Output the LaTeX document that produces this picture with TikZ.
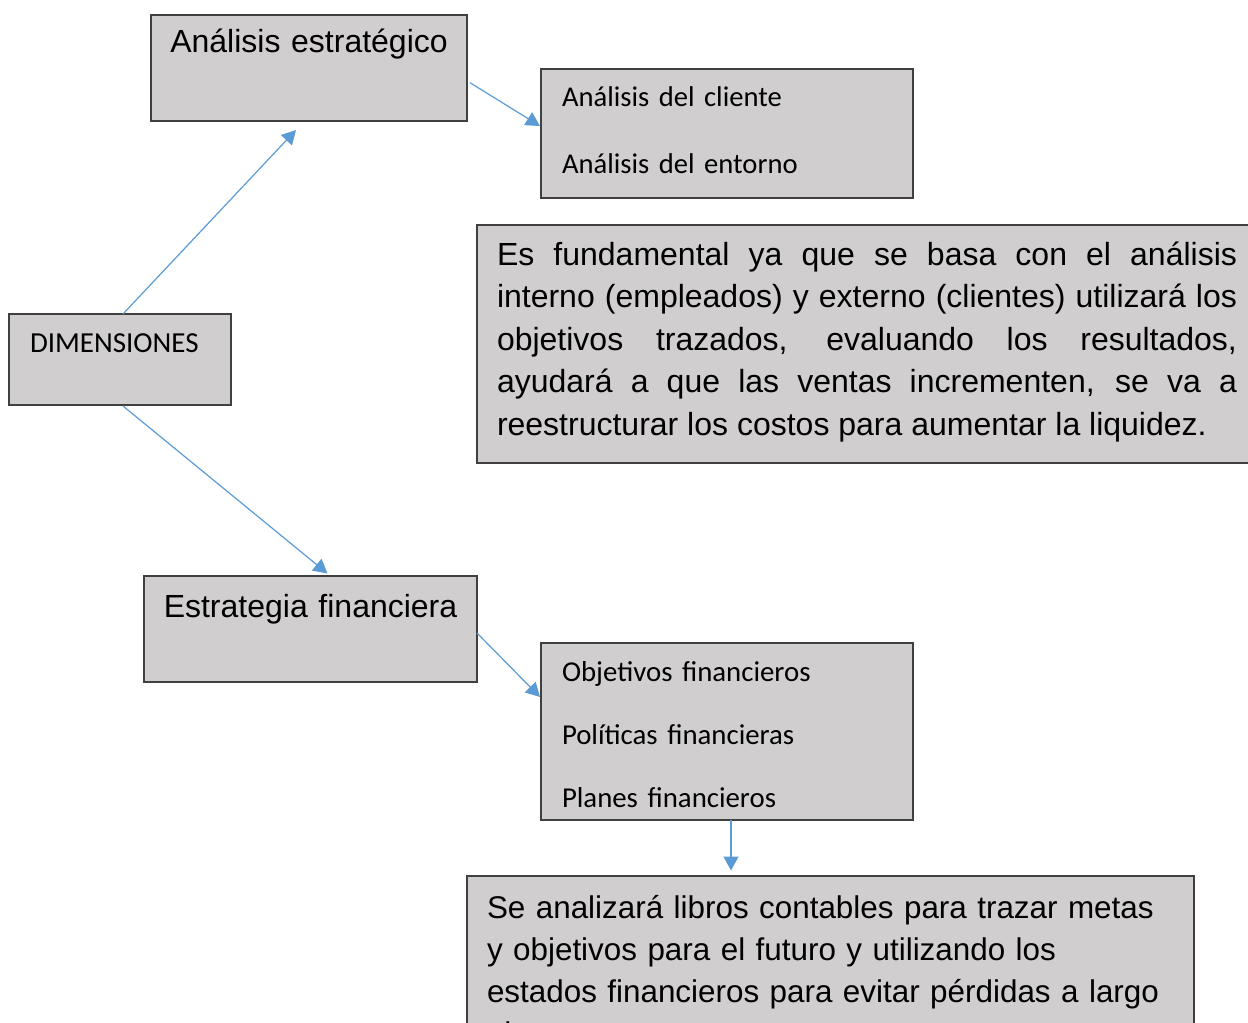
\documentclass[tikz,border=0pt]{standalone}
\usepackage{fontspec}
\setmainfont{Liberation Sans}
\newfontfamily\calibri{Carlito}
\usetikzlibrary{arrows.meta}
\definecolor{gris}{HTML}{D0CECE}
\definecolor{borde}{HTML}{404040}
\definecolor{azul}{HTML}{5B9BD5}
\hbadness=10000
\tikzset{
	caja/.style={draw=borde, fill=gris, line width=0.8pt, anchor=north west, outer sep=0pt, inner ysep=0pt},
	flecha/.style={draw=azul, line width=0.6pt, -{Triangle[length=7pt,width=7.5pt]}}
}
\begin{document}
\begin{tikzpicture}[x=0.5pt,y=-0.5pt]
		\useasboundingbox (0,0) rectangle (1248,1023);
		
		\node[caja, inner xsep=4pt, text width=150pt, align=center, text height=18.75pt, text depth=34.25pt, font=\fontsize{16pt}{19pt}\selectfont] (A) at (151,15) {Análisis estratégico};
		\node[caja, inner xsep=10.5pt, text width=165pt, align=left, text height=18.5pt, text depth=46pt, font=\calibri\fontsize{14.3pt}{33.5pt}\selectfont] (B) at (541,69) {Análisis del cliente\\Análisis del entorno};
		\node[caja, inner xsep=10.5pt, text width=90pt, align=left, text height=19pt, text depth=26.5pt, font=\calibri\fontsize{14.5pt}{17pt}\selectfont] (D) at (9,314) {DIMENSIONES};
		\node[caja, inner xsep=10pt, text width=370pt, align=justify, text height=20pt, text depth=99pt, font=\fontsize{16pt}{21.25pt}\selectfont] (P) at (477,225) {\tolerance=10000 Es fundamental ya que se basa con el análisis\linebreak interno (empleados) y externo (clientes) utilizará los\linebreak objetivos trazados, evaluando los resultados,\linebreak ayudará a que las ventas incrementen, se va a\linebreak reestructurar los costos para aumentar la liquidez.};
		\node[caja, inner xsep=4pt, text width=158.5pt, align=center, text height=20.5pt, text depth=32.5pt, font=\fontsize{16pt}{19pt}\selectfont] (E) at (144,576) {Estrategia financiera};
		\node[caja, inner xsep=10.5pt, text width=165pt, align=left, text height=19pt, text depth=69.5pt, font=\calibri\fontsize{14.4pt}{31.5pt}\selectfont] (F) at (541,643) {Objetivos financieros\\Políticas financieras\\Planes financieros};
		\node[caja, inner xsep=10pt, text width=343.5pt, align=left, text height=21pt, text depth=96pt, font=\fontsize{15.7pt}{21pt}\selectfont] (S) at (467,876) {Se analizará libros contables para trazar metas\\y objetivos para el futuro y utilizando los\\estados financieros para evitar pérdidas a largo\\plazo.};
		
		\draw[flecha, shorten >=6.2pt] ([xshift=1.5pt]D.north) to ([xshift=-2.25pt]A.south);
		\draw[flecha] ([xshift=1.5pt,yshift=-7.35pt]A.east) to ([xshift=-0.5pt,yshift=3.75pt]B.west);
		\draw[flecha] ([xshift=1.5pt,yshift=-0.5pt]D.south) to ([xshift=8.5pt,yshift=1.25pt]E.north);
		\draw[flecha] ([yshift=-2pt]E.east) to ([xshift=-0.5pt,yshift=17.25pt]F.west);
		\draw[flecha, shorten >=2.75pt] ([xshift=2pt]F.south) to ([xshift=2pt]F.south |- S.north);
\end{tikzpicture}
\end{document}
